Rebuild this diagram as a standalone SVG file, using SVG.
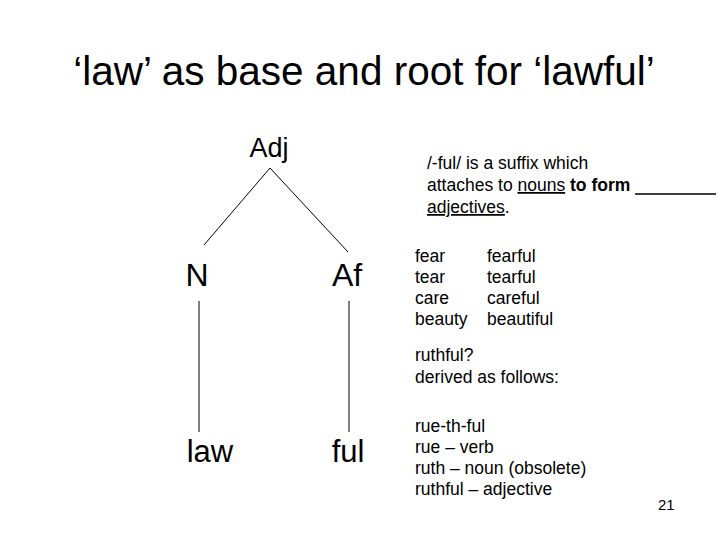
<svg xmlns="http://www.w3.org/2000/svg" width="720" height="540" viewBox="0 0 720 540">
<style>
text{font-family:"Liberation Sans",Arial,sans-serif;fill:#000}
.t{font-size:40.5px}
.n{font-size:32px}
.s{font-size:17.5px}
.pg{font-size:15px}
.c line{stroke:#000;stroke-width:1}
.u{text-decoration:underline}
.b{font-weight:bold}
</style>
<rect width="720" height="540" fill="#fff"/>
<text class="t" x="364" y="85" text-anchor="middle">‘law’ as base and root for ‘lawful’</text>
<g id="node-adj"><text class="n" x="269" y="157" text-anchor="middle" style="font-size:27px">Adj</text></g>
<g id="node-n"><text class="n" x="197" y="286" text-anchor="middle">N</text></g>
<g id="node-af"><text class="n" x="347" y="286" text-anchor="middle">Af</text></g>
<g id="node-law"><text class="n" x="210" y="462" text-anchor="middle" style="font-size:31px">law</text></g>
<g id="node-ful"><text class="n" x="348" y="462" text-anchor="middle" style="font-size:31px">ful</text></g>
<g class="c" id="connectors">
<line x1="270" y1="168" x2="204" y2="245"/>
<line x1="270" y1="168" x2="348" y2="252"/>
<line x1="199" y1="301" x2="199" y2="432"/>
<line x1="349" y1="301" x2="349" y2="432"/>
</g>
<g id="notes">
<text class="s" x="427" y="169">/-ful/ is a suffix which</text>
<text class="s" x="427" y="191">attaches to <tspan class="u">nouns</tspan> <tspan class="b">to form</tspan></text>
<line x1="635" y1="194" x2="716" y2="194" stroke="#000" stroke-width="1.3"/>
<text class="s" x="427" y="213"><tspan class="u">adjectives</tspan>.</text>
<text class="s" x="415" y="262">fear</text><text class="s" x="487" y="262">fearful</text>
<text class="s" x="415" y="283">tear</text><text class="s" x="487" y="283">tearful</text>
<text class="s" x="415" y="304">care</text><text class="s" x="487" y="304">careful</text>
<text class="s" x="415" y="325">beauty</text><text class="s" x="487" y="325">beautiful</text>
<text class="s" x="415" y="361">ruthful?</text>
<text class="s" x="415" y="383">derived as follows:</text>
<text class="s" x="415" y="432">rue-th-ful</text>
<text class="s" x="415" y="453">rue – verb</text>
<text class="s" x="415" y="474">ruth – noun (obsolete)</text>
<text class="s" x="415" y="495">ruthful – adjective</text>
<text class="pg" x="658" y="510">21</text>
</g>
</svg>
